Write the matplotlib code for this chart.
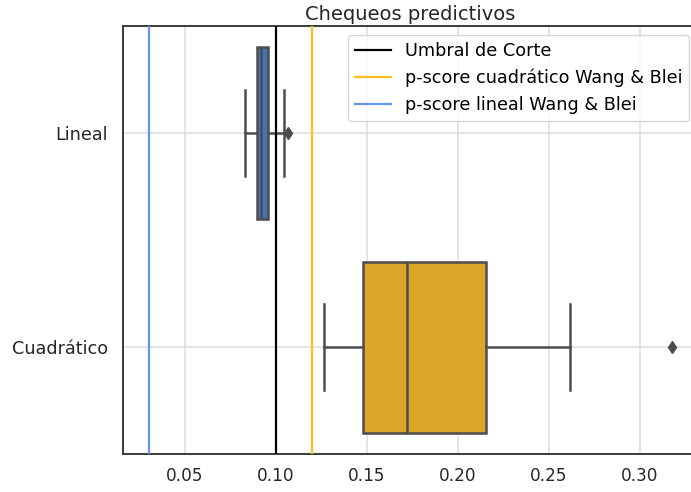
import matplotlib
matplotlib.use("Agg")
import matplotlib.pyplot as plt

# ---- data ----
categories = ["Lineal", "Cuadrático"]
whislo = [0.0829, 0.1261]
q1 = [0.0893, 0.1476]
med = [0.0918, 0.1719]
q3 = [0.0956, 0.2152]
whishi = [0.1044, 0.2618]
fliers = [[0.1066], [0.3175]]
box_colors = ["#4673b3", "#dca628"]

cutoff = 0.10
pscore_quad = 0.12
pscore_lin = 0.03
title = "Chequeos predictivos"
xtick_vals = [0.05, 0.10, 0.15, 0.20, 0.25, 0.30]
xtick_labels = ["0.05", "0.10", "0.15", "0.20", "0.25", "0.30"]

plt.rcParams["font.family"] = ["DejaVu Sans"]
fig = plt.figure(figsize=(6.91, 4.92), dpi=100)
ax = fig.add_axes([122.5 / 691, (492 - 454.3) / 492, (698 - 122.5) / 691, (454.3 - 26) / 492])

stats = []
for i, c in enumerate(categories):
    stats.append(dict(label=c, whislo=whislo[i], q1=q1[i], med=med[i], q3=q3[i],
                      whishi=whishi[i], fliers=fliers[i]))

edge = "#4d4d4d"
bp = ax.bxp(stats, positions=range(len(categories)), vert=False, widths=0.8,
            patch_artist=True, showfliers=True,
            boxprops=dict(edgecolor=edge, linewidth=1.8),
            medianprops=dict(color=edge, linewidth=1.8),
            whiskerprops=dict(color=edge, linewidth=1.8),
            capprops=dict(color=edge, linewidth=1.8),
            flierprops=dict(marker="d", markerfacecolor=edge, markeredgecolor=edge,
                            markersize=6, linestyle="none"))
for patch, col in zip(bp["boxes"], box_colors):
    patch.set_facecolor(col)
for cap in bp["caps"]:
    yd = cap.get_ydata()
    m = (yd[0] + yd[1]) / 2
    cap.set_ydata([m - 0.2, m + 0.2])

ax.axvline(cutoff, color="black", linewidth=1.6, label="Umbral de Corte", zorder=3)
ax.axvline(pscore_quad, color="#ffbf1f", linewidth=1.6, label="p-score cuadrático Wang & Blei", zorder=3)
ax.axvline(pscore_lin, color="#6495ed", linewidth=1.6, label="p-score lineal Wang & Blei", zorder=3)

ax.set_ylim(1.5, -0.5)
ax.set_yticks(range(len(categories)))
ax.set_yticklabels(categories)
lo = min(pscore_lin, min(whislo))
hi = max(max(f) for f in fliers)
rng = hi - lo
ax.set_xlim(lo - 0.05 * rng, hi + 0.05 * rng)
ax.set_xticks(xtick_vals)
ax.set_xticklabels(xtick_labels)

ax.grid(True, color="#dcdcdc", linewidth=1.1)
ax.set_axisbelow(True)
for s in ax.spines.values():
    s.set_color("#3a3a3a")
    s.set_linewidth(1.4)
ax.tick_params(axis="x", length=0, labelsize=12.2, colors="#262626", pad=9)
ax.tick_params(axis="y", length=0, labelsize=12.7, colors="#262626", pad=10.5)

ax.set_title(title, fontsize=14, color="#262626", pad=4)
leg = ax.legend(loc="upper right", fontsize=12.7, framealpha=0.8, edgecolor="#cccccc")

fig.savefig("out.png", dpi=100)
